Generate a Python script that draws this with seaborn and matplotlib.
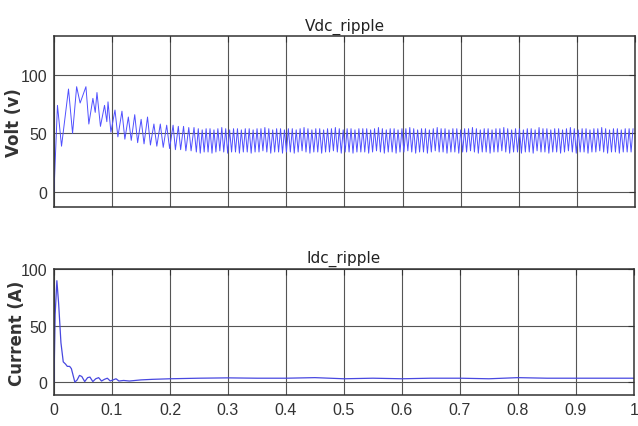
import matplotlib as mpl
mpl.use("Agg")
import numpy as np
import pandas as pd
import matplotlib.pyplot as plt
import seaborn as sns

# Vdc start-up transient: turning points (time s, volt)
vdc_transient_t = [0.000, 0.006, 0.013, 0.025, 0.032, 0.039, 0.045, 0.055, 0.060, 0.067,
                   0.071, 0.074, 0.080, 0.087, 0.091, 0.093, 0.098, 0.105, 0.110, 0.117,
                   0.122, 0.128, 0.133, 0.139, 0.144, 0.150, 0.155, 0.161, 0.166, 0.172,
                   0.177, 0.183, 0.188, 0.194, 0.199, 0.205, 0.209, 0.214, 0.218, 0.223,
                   0.227, 0.232, 0.236, 0.241]
vdc_transient_v = [0, 74, 39, 88, 50, 90, 76, 90, 58, 80,
                   68, 85, 56, 74, 60, 77, 51, 70, 47, 69,
                   45, 64, 44, 66, 42, 62, 41, 64, 40, 58,
                   39, 58, 38, 57, 37, 57, 36, 56, 36, 56,
                   35, 55, 35, 55]

# steady ripple after ~0.245 s: one trough and one peak per cycle
ripple_start, ripple_end = 0.245, 1.0
vdc_ripple_troughs = [34, 33, 34, 34, 33, 34, 35, 34, 33, 34, 34, 33, 34, 34,
                      33, 34, 34, 35, 34, 33, 34, 34, 33, 34, 34, 33, 34, 35,
                      34, 33, 34, 34, 33, 34, 34, 35, 34, 33, 34, 34, 33, 34,
                      34, 34, 33, 34, 35, 34, 33, 34, 34, 33, 34, 34, 35, 34,
                      33, 34, 34, 33, 34, 35, 34, 34, 33, 34, 34, 33, 34, 34,
                      35, 34, 33, 34, 34, 33, 34, 34, 35, 34, 33, 34, 34, 33,
                      34, 34, 33, 35, 34, 34, 33, 34, 34, 33, 34, 35, 34, 33,
                      34, 34, 33, 34, 34, 35, 34, 33, 34, 34, 33, 34, 34, 34]
vdc_ripple_peaks = [54, 53, 54, 54, 53, 54, 55, 54, 53, 54, 54, 53, 54, 54,
                    53, 54, 54, 55, 54, 53, 54, 54, 53, 54, 54, 53, 54, 55,
                    54, 53, 54, 54, 53, 54, 54, 55, 54, 53, 54, 54, 53, 54,
                    54, 54, 53, 54, 55, 54, 53, 54, 54, 53, 54, 54, 55, 54,
                    53, 54, 54, 53, 54, 55, 54, 54, 53, 54, 54, 53, 54, 54,
                    55, 54, 53, 54, 54, 53, 54, 54, 55, 54, 53, 54, 54, 53,
                    54, 54, 53, 55, 54, 54, 53, 54, 54, 53, 54, 55, 54, 53,
                    54, 54, 53, 54, 54, 55, 54, 53, 54, 54, 53, 54, 54, 54]

# Idc (time s, ampere)
idc_t = [0.000, 0.002, 0.005, 0.008, 0.012, 0.016, 0.020, 0.023, 0.027, 0.030,
         0.033, 0.036, 0.040, 0.044, 0.048, 0.053, 0.058, 0.062, 0.067, 0.072,
         0.077, 0.082, 0.087, 0.092, 0.097, 0.102, 0.107, 0.112, 0.120, 0.130,
         0.140, 0.150, 0.170, 0.200, 0.250, 0.300, 0.350, 0.400, 0.450, 0.500,
         0.550, 0.600, 0.650, 0.700, 0.750, 0.800, 0.850, 0.900, 0.950, 1.000]
idc_v = [0, 60, 90, 70, 35, 18, 16, 14, 14, 12,
         6, 0, 2, 6, 5, 0.5, 4, 4.5, 0.5, 3,
         4, 1, 2.5, 3.5, 1, 2, 3, 1, 1.5, 1,
         1.5, 2, 2.5, 3, 3.5, 3.8, 3.5, 3.5, 4, 3,
         3.5, 3, 3.5, 3.5, 3, 4, 3.5, 3.5, 3.5, 3.5]

# build the Vdc series: transient + ripple cycles
n_cyc = len(vdc_ripple_peaks)
cyc_t = np.linspace(ripple_start, ripple_end, n_cyc + 1)[:-1]
half = (ripple_end - ripple_start) / n_cyc / 2
rip_t = np.ravel(np.column_stack([cyc_t, cyc_t + half]))
rip_v = np.ravel(np.column_stack([vdc_ripple_troughs, vdc_ripple_peaks]))
vdc = pd.DataFrame({'t': np.concatenate([vdc_transient_t, rip_t]),
                    'v': np.concatenate([vdc_transient_v, rip_v])})
idc = pd.DataFrame({'t': idc_t, 'v': idc_v})

sns.set_theme(style='white')
plt.rcParams['font.family'] = ['DejaVu Sans']

tick_font = ['Liberation Sans', 'DejaVu Sans']

fig = plt.figure(figsize=(6.38, 4.27), dpi=100)
ax1 = fig.add_axes([0.0846, 0.5122, 0.9107, 0.4004])
ax2 = fig.add_axes([0.0846, 0.0726, 0.9091, 0.2951])

sns.lineplot(data=vdc, x='t', y='v', ax=ax1, estimator=None, sort=False,
             color='#5050ff', linewidth=0.7)
sns.lineplot(data=idc, x='t', y='v', ax=ax2, estimator=None, sort=False,
             color='#4848e0', linewidth=0.9)

for ax, title, ylab, ylim, lx in [(ax1, 'Vdc_ripple', 'Volt (v)', (-13.4, 133.2), -0.069),
                                   (ax2, 'Idc_ripple', 'Current (A)', (-11.4, 100.4), -0.063)]:
    ax.set_xlim(0, 1)
    ax.set_ylim(*ylim)
    ax.set_xticks(np.arange(0, 1.01, 0.1))
    ax.set_yticks([0, 50, 100])
    ax.set_xticklabels(['0', '0.1', '0.2', '0.3', '0.4', '0.5', '0.6', '0.7', '0.8', '0.9', '1'])
    ax.grid(True, color='#555555', linewidth=0.8)
    ax.tick_params(direction='in', length=4, width=0.8, color='#333333',
                   top=True, right=True, labelsize=11.5, labelcolor='#333333', pad=5)
    for lab in ax.get_xticklabels() + ax.get_yticklabels():
        lab.set_family(tick_font)
    for sp in ax.spines.values():
        sp.set_color('#333333')
        sp.set_linewidth(1.1)
    ax.set_title(title, fontsize=11, color='#222222', pad=5)
    ax.set_xlabel('')
    ax.set_ylabel(ylab, fontsize=12, fontweight='bold', color='#333333', va='center')
    ax.yaxis.set_label_coords(lx, 0.5)

ax1.tick_params(labelbottom=False)

fig.savefig('out.png', dpi=100)
plt.close(fig)
